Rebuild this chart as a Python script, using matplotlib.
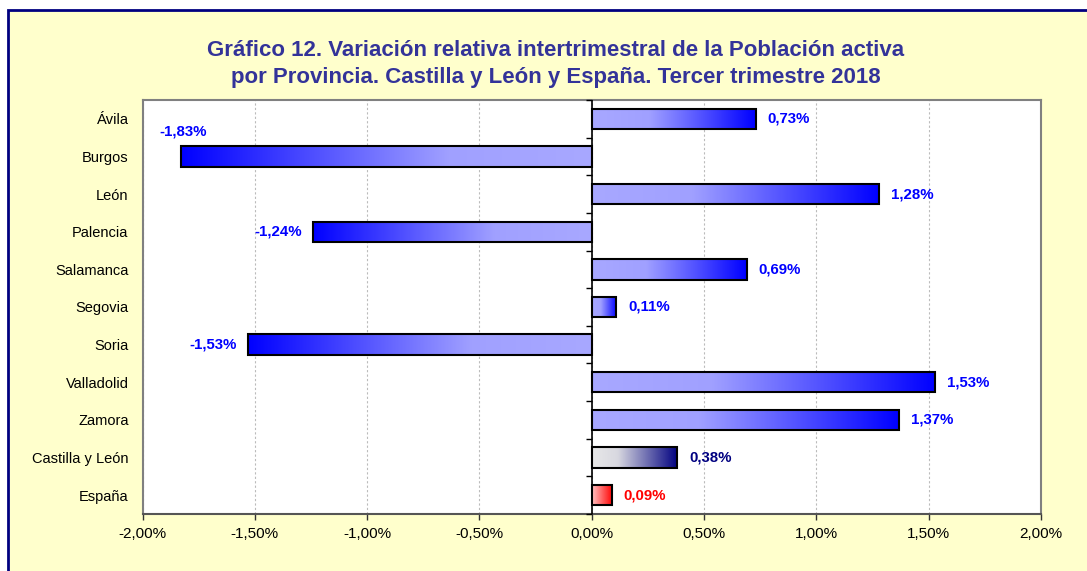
import matplotlib
matplotlib.use("Agg")
import matplotlib.pyplot as plt
import numpy as np
from matplotlib.patches import Rectangle
from matplotlib.colors import LinearSegmentedColormap
from matplotlib.ticker import FuncFormatter
from matplotlib.markers import TICKLEFT

plt.rcParams['font.family'] = ['Liberation Sans', 'DejaVu Sans']

categories = ["Ávila", "Burgos", "León", "Palencia", "Salamanca", "Segovia",
              "Soria", "Valladolid", "Zamora", "Castilla y León", "España"]
values = [0.73, -1.83, 1.28, -1.24, 0.69, 0.11, -1.53, 1.53, 1.37, 0.38, 0.09]
kinds = ["prov"] * 9 + ["cyl", "esp"]
xticks = [-2.0, -1.5, -1.0, -0.5, 0.0, 0.5, 1.0, 1.5, 2.0]

cmaps = {
    "prov": LinearSegmentedColormap.from_list("prov", [(0.0, "#A8A8FF"), (0.35, "#A0A0FF"), (1.0, "#0000FF")]),
    "cyl": LinearSegmentedColormap.from_list("cyl", [(0.0, "#E8E8E8"), (0.3, "#D8D8E0"), (1.0, "#000080")]),
    "esp": LinearSegmentedColormap.from_list("esp", [(0.0, "#FFC0C0"), (1.0, "#FF0000")]),
}
label_colors = {"prov": "#0000FF", "cyl": "#000080", "esp": "#FF0000"}

fig = plt.figure(figsize=(10.87, 5.71), dpi=100)
fig.patch.set_facecolor("white")
# chart area box
fig.patches.append(Rectangle((8 / 1087, -0.05), 1.1, 1 - 10 / 571 + 0.05,
                             transform=fig.transFigure, facecolor="#FFFFCC",
                             edgecolor="#000080", linewidth=2, zorder=-10))

L, R, T, B = 142.5, 1041, 100, 514
ax = fig.add_axes([L / 1087, 1 - B / 571, (R - L) / 1087, (B - T) / 571])
ax.set_zorder(1)
ax.set_facecolor("white")

bar_h = 0.54
y = np.arange(len(categories))
bars = ax.barh(y, values, height=bar_h, fill=False, edgecolor="black", linewidth=1.5, zorder=4)

grad = np.linspace(0, 1, 256).reshape(1, -1)
for b, v, k in zip(bars, values, kinds):
    x0, yb, w, h = b.get_x(), b.get_y(), b.get_width(), b.get_height()
    x1 = x0 + w
    img = grad if v >= 0 else grad[:, ::-1]
    ax.imshow(img, cmap=cmaps[k], aspect="auto", extent=(min(x0, x1), max(x0, x1), yb + h, yb),
              zorder=3, interpolation="bicubic")
ax.set_xlim(-2.0, 2.0)
ax.set_ylim(len(categories) - 0.5, -0.5)

# category axis at zero with tick marks between categories
ax.axvline(0, color="black", linewidth=1.2, zorder=5)
bounds = np.arange(-0.5, len(categories) + 0.5, 1.0)
ax.plot(np.zeros_like(bounds), bounds, linestyle="none", marker=TICKLEFT,
        markersize=4, markeredgewidth=1, color="black", zorder=5, clip_on=False)

# value labels
for i, (v, k) in enumerate(zip(values, kinds)):
    txt = f"{v:.2f}%".replace(".", ",")
    col = label_colors[k]
    if v >= 0:
        ax.annotate(txt, (v, i), xytext=(8.5, 0), textcoords="offset points",
                    ha="left", va="center", fontsize=10.8, fontweight="bold", color=col)
    elif categories[i] == "Burgos":
        ax.annotate(txt, (v, i), xytext=(2, 18), textcoords="offset points",
                    ha="center", va="center", fontsize=10.8, fontweight="bold", color=col)
    else:
        ax.annotate(txt, (v, i), xytext=(-8, 0), textcoords="offset points",
                    ha="right", va="center", fontsize=10.8, fontweight="bold", color=col)

# grid
ax.set_xticks(xticks)
ax.xaxis.set_major_formatter(FuncFormatter(lambda x, p: f"{x:.2f}%".replace(".", ",")))
ax.grid(axis="x", color="#BBBBBB", linestyle=(0, (2, 2)), linewidth=0.8, zorder=0)
ax.set_axisbelow(True)
ax.tick_params(axis="x", direction="out", length=4, width=1, color="#333333",
               labelsize=11, pad=5)
ax.set_yticks(y)
ax.set_yticklabels(categories)
ax.tick_params(axis="y", length=0, labelsize=10.5, pad=10)
for s in ["left", "right", "top"]:
    ax.spines[s].set_color("#808080")
    ax.spines[s].set_linewidth(1.5)
ax.spines["bottom"].set_color("#555555")
ax.spines["bottom"].set_linewidth(1.5)

fig.text(556 / 1087, 1 - 64 / 571,
         "Gráfico 12. Variación relativa intertrimestral de la Población activa\n"
         "por Provincia. Castilla y León y España. Tercer trimestre 2018",
         ha="center", va="center", fontsize=16, fontweight="bold", color="#333399",
         linespacing=1.4)

fig.savefig("out.png", dpi=100)
